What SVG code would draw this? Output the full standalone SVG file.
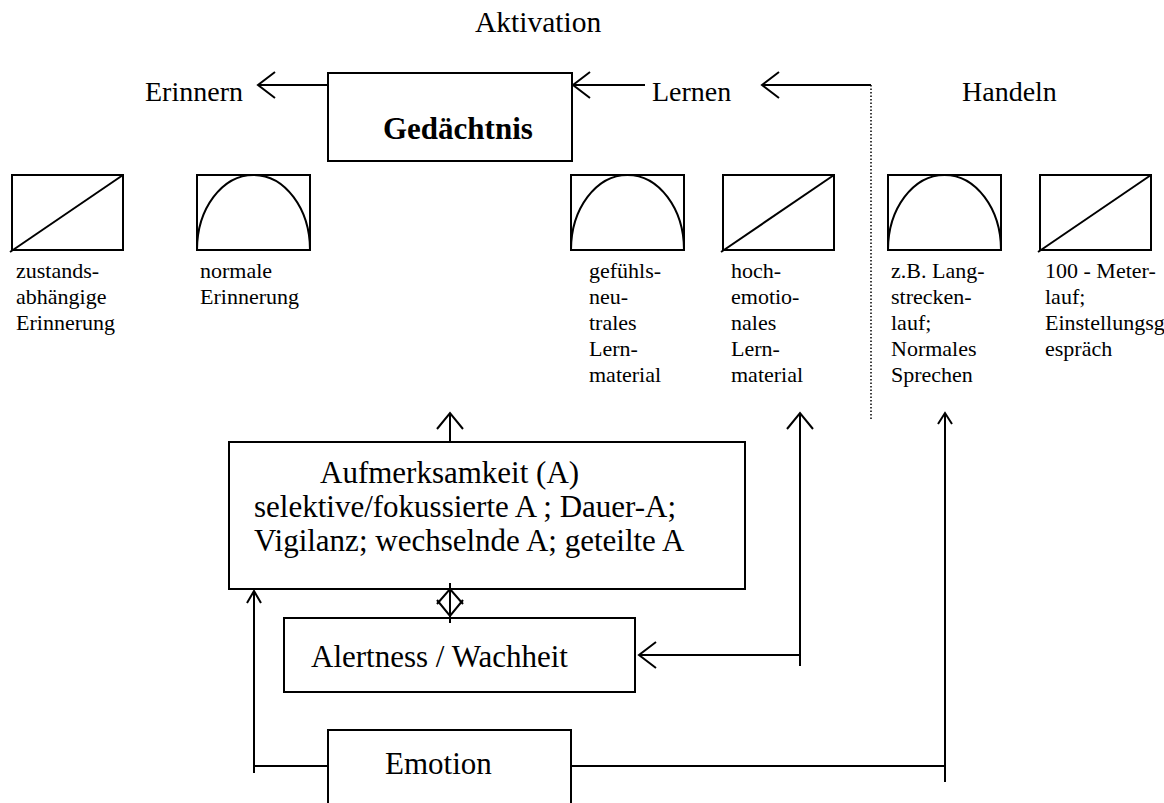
<svg xmlns="http://www.w3.org/2000/svg" width="1164" height="803" viewBox="0 0 1164 803" font-family="'Liberation Serif', 'Times New Roman', serif">
<style>
.bx{fill:#fff;stroke:#000;stroke-width:2}
.sb{fill:none;stroke:#000;stroke-width:2}
.ln{fill:none;stroke:#000;stroke-width:2}
.t{font-family:'Liberation Serif','Times New Roman',serif;fill:#000}
.big{font-size:31px}
.mid{font-size:28px}
.sm{font-size:22px}
</style>
<rect width="1164" height="803" fill="#fff"/>
<text class="t mid" x="475" y="32" style="font-size:29.5px">Aktivation</text>
<text class="t mid" x="145" y="101">Erinnern</text>
<text class="t mid" x="652" y="101">Lernen</text>
<text class="t mid" x="962" y="101">Handeln</text>
<g id="gedaechtnis">
<rect class="bx" x="328" y="73" width="244" height="88"/>
<text class="t big" x="383" y="139" font-weight="bold">Gedächtnis</text>
</g>
<g id="curve1">
<rect class="sb" x="12" y="175" width="111" height="75"/>
<line class="sb" x1="10" y1="252" x2="123" y2="175"/>
<text class="t sm"><tspan x="16" y="278">zustands-</tspan><tspan x="16" y="304">abhängige</tspan><tspan x="16" y="330">Erinnerung</tspan></text>
</g>
<g id="curve2">
<rect class="sb" x="197" y="175" width="113" height="75"/>
<path class="sb" d="M197,250 A56.5,75 0 0 1 310,250"/>
<text class="t sm"><tspan x="200" y="278">normale</tspan><tspan x="200" y="304">Erinnerung</tspan></text>
</g>
<g id="curve3">
<rect class="sb" x="571" y="175" width="113" height="75"/>
<path class="sb" d="M571,250 A56.5,75 0 0 1 684,250"/>
<text class="t sm"><tspan x="589" y="278">gefühls-</tspan><tspan x="589" y="304">neu-</tspan><tspan x="589" y="330">trales</tspan><tspan x="589" y="356">Lern-</tspan><tspan x="589" y="382">material</tspan></text>
</g>
<g id="curve4">
<rect class="sb" x="723" y="175" width="111" height="75"/>
<line class="sb" x1="721" y1="252" x2="834" y2="175"/>
<text class="t sm"><tspan x="731" y="278">hoch-</tspan><tspan x="731" y="304">emotio-</tspan><tspan x="731" y="330">nales</tspan><tspan x="731" y="356">Lern-</tspan><tspan x="731" y="382">material</tspan></text>
</g>
<g id="curve5">
<rect class="sb" x="888" y="175" width="113" height="75"/>
<path class="sb" d="M888,250 A56.5,75 0 0 1 1001,250"/>
<text class="t sm"><tspan x="891" y="278">z.B. Lang-</tspan><tspan x="891" y="304">strecken-</tspan><tspan x="891" y="330">lauf;</tspan><tspan x="891" y="356">Normales</tspan><tspan x="891" y="382">Sprechen</tspan></text>
</g>
<g id="curve6">
<rect class="sb" x="1040" y="175" width="111" height="75"/>
<line class="sb" x1="1038" y1="252" x2="1151" y2="175"/>
<text class="t sm"><tspan x="1045" y="278">100 - Meter-</tspan><tspan x="1045" y="304">lauf;</tspan><tspan x="1045" y="330">Einstellungsg</tspan><tspan x="1045" y="356">espräch</tspan></text>
</g>
<g id="aufmerksamkeit">
<rect class="bx" x="229" y="442" width="516" height="147"/>
<text class="t big"><tspan x="320" y="483">Aufmerksamkeit (A)</tspan><tspan x="254" y="517">selektive/fokussierte A ; Dauer-A;</tspan><tspan x="254" y="551">Vigilanz; wechselnde A; geteilte A</tspan></text>
</g>
<g id="alertness">
<rect class="bx" x="284" y="618" width="351" height="74"/>
<text class="t big" x="311" y="667">Alertness / Wachheit</text>
</g>
<g id="emotion">
<path class="ln" d="M328,803 V730 H571 V803"/>
<text class="t big" x="385" y="774">Emotion</text>
</g>
<g id="connectors">
<line class="ln" x1="328" y1="85" x2="258" y2="85"/>
<polyline class="ln" points="275,72 258,85 275,98"/>
<line class="ln" x1="645" y1="85" x2="573" y2="85"/>
<polyline class="ln" points="590,72 573,85 590,98"/>
<line class="ln" x1="871" y1="85" x2="762" y2="85"/>
<polyline class="ln" points="779,72 762,85 779,98"/>
<line x1="871" y1="85" x2="871" y2="421" stroke="#000" stroke-width="1.5" stroke-dasharray="1.5 2"/>
<line class="ln" x1="450" y1="442" x2="450" y2="413"/>
<polyline class="ln" points="437,429 450,413 463,429"/>
<line class="ln" x1="450" y1="583" x2="450" y2="623"/>
<polyline class="ln" points="437,604 450,589 463,604"/>
<polyline class="ln" points="437,600 450,616 463,600"/>
<line class="ln" x1="800" y1="666" x2="800" y2="413"/>
<polyline class="ln" points="787,429 800,413 813,429"/>
<line class="ln" x1="800" y1="655" x2="639" y2="655"/>
<polyline class="ln" points="656,642 639,655 656,668"/>
<line class="ln" x1="254" y1="773" x2="254" y2="591"/>
<polyline class="ln" points="247,603 254,591 261,603"/>
<line class="ln" x1="254" y1="766" x2="328" y2="766"/>
<line class="ln" x1="571" y1="766" x2="945" y2="766"/>
<line class="ln" x1="945" y1="782" x2="945" y2="413"/>
<polyline class="ln" points="938,424 945,413 952,424"/>
</g>
</svg>
